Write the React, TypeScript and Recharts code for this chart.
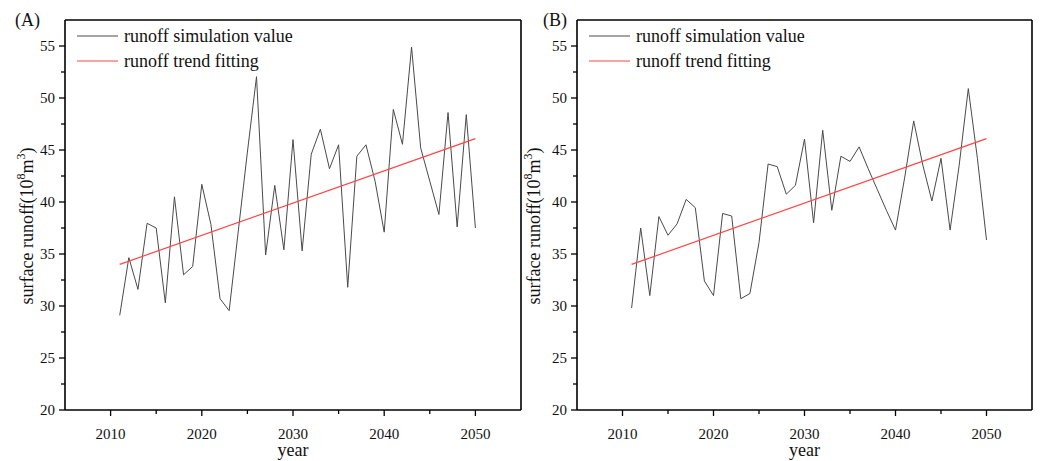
import React from 'react';
import { LineChart, Line, XAxis, YAxis, ReferenceLine, Legend } from 'recharts';

const years = [
  2011, 2012, 2013, 2014, 2015, 2016, 2017, 2018, 2019, 2020,
  2021, 2022, 2023, 2024, 2025, 2026, 2027, 2028, 2029, 2030,
  2031, 2032, 2033, 2034, 2035, 2036, 2037, 2038, 2039, 2040,
  2041, 2042, 2043, 2044, 2045, 2046, 2047, 2048, 2049, 2050,
];
const simulationA = [
  29.1, 34.65, 31.6, 37.95, 37.5, 30.3, 40.5, 33.0, 33.8, 41.7,
  37.85, 30.7, 29.55, 37.2, 44.8, 52.05, 34.9, 41.6, 35.4, 46.0,
  35.3, 44.6, 47.0, 43.2, 45.5, 31.8, 44.4, 45.5, 42.0, 37.1,
  48.9, 45.55, 54.9, 45.2, 42.0, 38.8, 48.6, 37.6, 48.4, 37.5,
];
const simulationB = [
  29.8, 37.5, 31.0, 38.6, 36.8, 37.9, 40.25, 39.45, 32.4, 31.0,
  38.9, 38.65, 30.7, 31.2, 36.1, 43.65, 43.4, 40.75, 41.6, 46.05,
  38.0, 46.9, 39.2, 44.4, 43.9, 45.3, 43.2, 41.2, 39.2, 37.3,
  42.3, 47.8, 43.55, 40.1, 44.2, 37.3, 43.55, 50.9, 44.2, 36.35,
];
const trendYears = [2011, 2050];
const trendA = [34.0, 46.1];
const trendB = [34.0, 46.1];

const xTicks = [2010, 2015, 2020, 2025, 2030, 2035, 2040, 2045, 2050];
const xLabels = [2010, 2020, 2030, 2040, 2050];
const yTicks = [20, 22.5, 25, 27.5, 30, 32.5, 35, 37.5, 40, 42.5, 45, 47.5, 50, 52.5, 55];
const yLabels = [20, 25, 30, 35, 40, 45, 50, 55];
const seriesNames = ['runoff simulation value', 'runoff trend fitting'];
const panelTitles = ['(A)', '(B)'];

const FONT = '"Liberation Serif", "Times New Roman", serif';
const SIM_COLOR = '#4a4a4a';
const TREND_COLOR = '#ff4545';

const XTick = (props: any) => {
  const { x, y, payload } = props;
  const major = xLabels.includes(payload.value);
  return (
    <g>
      <line x1={x} y1={y} x2={x} y2={y + (major ? 6 : 4)} stroke="#000" strokeWidth={1.3} />
      {major && (
        <text x={x} y={y + 29} textAnchor="middle" fontSize={15} fontFamily={FONT} fill="#111">
          {payload.value}
        </text>
      )}
    </g>
  );
};

const YTick = (props: any) => {
  const { x, y, payload } = props;
  const major = yLabels.includes(payload.value);
  return (
    <g>
      <line x1={x} y1={y} x2={x - (major ? 6 : 4)} y2={y} stroke="#000" strokeWidth={1.3} />
      {major && (
        <text x={x - 10} y={y + 5} textAnchor="end" fontSize={15} fontFamily={FONT} fill="#111">
          {payload.value}
        </text>
      )}
    </g>
  );
};

type PanelProps = {
  left: number;
  width: number;
  marginRight: number;
  title: string;
  titleX: number;
  labelX: number;
  sim: number[];
  trend: number[];
};

const Panel = ({ left, width, marginRight, title, titleX, labelX, sim, trend }: PanelProps) => {
  const data = years.map((year, i) => ({ year, value: sim[i] }));
  const trendData = trendYears.map((year, i) => ({ year, value: trend[i] }));
  const renderLabels = () => (
    <g>
      <text x={titleX} y={26} fontSize={18} fontFamily={FONT} fill="#111">{title}</text>
      <text
        x={labelX}
        y={226}
        transform={`rotate(-90 ${labelX} 226)`}
        textAnchor="middle"
        fontSize={18}
        fontFamily={FONT}
        fill="#111"
      >
        surface runoff(10
        <tspan fontSize={12} dy={-8}>8</tspan>
        <tspan dy={8}>m</tspan>
        <tspan fontSize={12} dy={-8}>3</tspan>
        <tspan dy={8}>)</tspan>
      </text>
      <text x={(65 + width - marginRight) / 2} y={456} textAnchor="middle" fontSize={18} fontFamily={FONT} fill="#111">
        year
      </text>
    </g>
  );
  const renderLegend = () => (
    <svg width={260} height={60} style={{ display: 'block' }}>
      <line x1={0} y1={16} x2={41} y2={16} stroke={SIM_COLOR} strokeWidth={1} />
      <text x={47} y={22} fontSize={18} fontFamily={FONT} fill="#111">{seriesNames[0]}</text>
      <line x1={0} y1={41} x2={41} y2={41} stroke={TREND_COLOR} strokeWidth={1} />
      <text x={47} y={47} fontSize={18} fontFamily={FONT} fill="#111">{seriesNames[1]}</text>
    </svg>
  );
  return (
    <div style={{ position: 'absolute', left, top: 0, width, height: 461 }}>
      <LineChart width={width} height={461} margin={{ top: 20, right: marginRight, bottom: 0, left: 0 }}>
        <XAxis
          dataKey="year"
          type="number"
          domain={[2005, 2055]}
          ticks={xTicks}
          interval={0}
          height={51}
          tickSize={0}
          tickMargin={0}
          tickLine={false}
          tick={<XTick />}
          axisLine={{ stroke: '#000', strokeWidth: 1.6 }}
          allowDataOverflow
          label={renderLabels}
        />
        <YAxis
          type="number"
          domain={[20, 57.5]}
          ticks={yTicks}
          interval={0}
          width={65}
          tickSize={0}
          tickMargin={0}
          tickLine={false}
          tick={<YTick />}
          axisLine={{ stroke: '#000', strokeWidth: 1.6 }}
          allowDataOverflow
        />
        <ReferenceLine y={57.5} stroke="#000" strokeWidth={1.6} />
        <ReferenceLine x={2055} stroke="#000" strokeWidth={1.6} />
        <Legend
          layout="vertical"
          align="center"
          verticalAlign="middle"
          content={renderLegend}
          wrapperStyle={{ position: 'absolute', left: 77, top: 20, width: 260, height: 60 }}
        />
        <Line
          data={data}
          dataKey="value"
          name={seriesNames[0]}
          stroke={SIM_COLOR}
          strokeWidth={1}
          dot={false}
          activeDot={false}
          isAnimationActive={false}
        />
        <Line
          data={trendData}
          dataKey="value"
          name={seriesNames[1]}
          stroke={TREND_COLOR}
          strokeWidth={1.2}
          dot={false}
          activeDot={false}
          isAnimationActive={false}
        />
      </LineChart>
    </div>
  );
};

export default function App() {
  return (
    <div style={{ position: 'absolute', left: 0, top: 0, width: 1042, height: 461, background: '#fff', overflow: 'hidden' }}>
      <Panel left={0} width={525} marginRight={4} title={panelTitles[0]} titleX={15} labelX={33} sim={simulationA} trend={trendA} />
      <Panel left={512} width={530} marginRight={10} title={panelTitles[1]} titleX={31} labelX={28} sim={simulationB} trend={trendB} />
    </div>
  );
}
